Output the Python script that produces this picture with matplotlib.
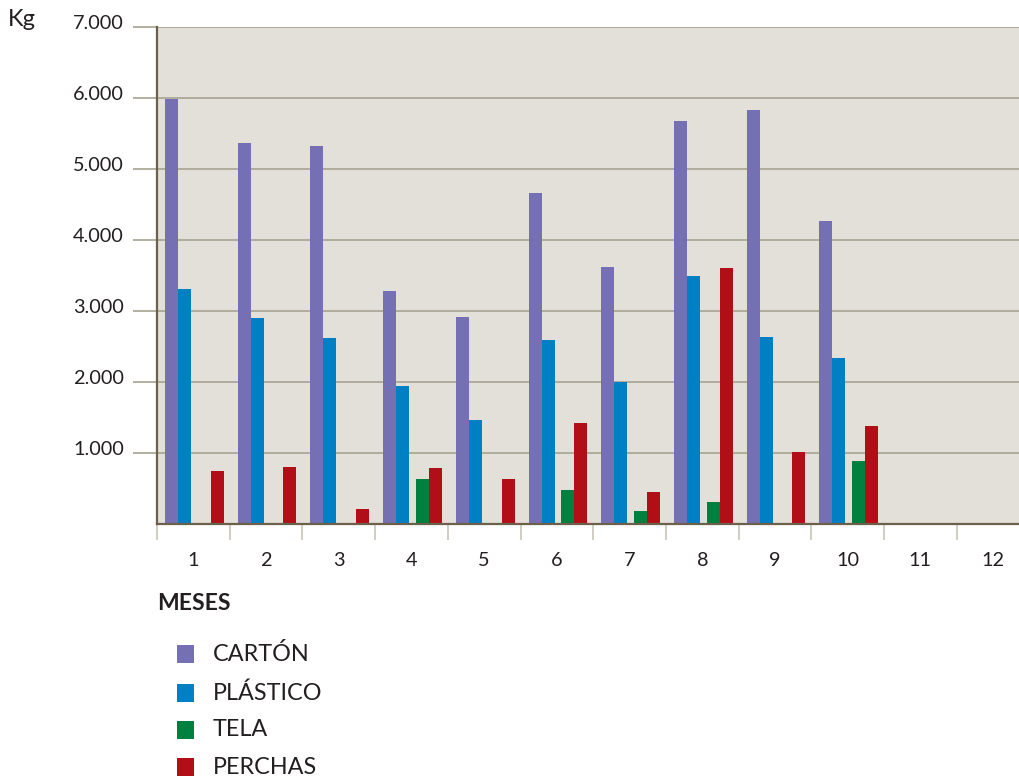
import numpy as np
import matplotlib
matplotlib.use("Agg")
from matplotlib import pyplot as plt
from matplotlib.patches import Rectangle
from matplotlib.ticker import FuncFormatter, FixedLocator
import matplotlib.transforms as mtransforms

plt.rcParams["font.family"] = ["Lato", "DejaVu Sans"]

meses = list(range(1, 13))
series = ["CARTÓN", "PLÁSTICO", "TELA", "PERCHAS"]
carton = [5980, 5367, 5325, 3277, 2910, 4661, 3621, 5678, 5833, 4266, 0, 0]
plastico = [3305, 2896, 2613, 1949, 1469, 2588, 1994, 3494, 2631, 2331, 0, 0]
tela = [0, 0, 0, 636, 0, 481, 184, 311, 0, 890, 0, 0]
perchas = [749, 805, 212, 791, 636, 1429, 453, 3607, 1017, 1384, 0, 0]
y_ticks = [1000, 2000, 3000, 4000, 5000, 6000, 7000]

colores = ["#7570b3", "#0080c4", "#00803f", "#b20e17"]
offsets = [-0.300, -0.121, 0.150, 0.329]
ancho = 0.179

W, H = 1019, 778
fig = plt.figure(figsize=(W / 100, H / 100), dpi=100)
ax = fig.add_axes([157 / W, (H - 524) / H, (W - 157) / W, (524 - 27) / H])
ax.set_facecolor("#e3e0da")

x = np.array(meses, dtype=float)
for valores, color, off in zip([carton, plastico, tela, perchas], colores, offsets):
    ax.bar(x + off, valores, width=ancho, color=color, linewidth=0, zorder=3)

ax.set_xlim(0.5, 0.5 + (W - 157) / 72.7)
ax.set_ylim(0, 7000)

# rejilla horizontal
grid_color = "#a8a290"
for v in y_ticks:
    ax.axhline(v, color=grid_color, linewidth=1.2, zorder=1)

for s in ["top", "right"]:
    ax.spines[s].set_visible(False)
for s in ["left", "bottom"]:
    ax.spines[s].set_color("#6b6049")
    ax.spines[s].set_linewidth(1.6)
    ax.spines[s].set_zorder(4)

# eje y
ax.yaxis.set_major_locator(FixedLocator(y_ticks))
ax.yaxis.set_major_formatter(FuncFormatter(lambda v, p: f"{int(v):,}".replace(",", ".")))
ax.tick_params(axis="y", direction="out", length=17, width=1.2, color=grid_color,
               pad=7, labelsize=14.3, labelcolor="#231f20")
off_up = mtransforms.ScaledTranslation(0, 5 / 100, fig.dpi_scale_trans)
for lbl in ax.get_yticklabels():
    lbl.set_transform(lbl.get_transform() + off_up)

# eje x: marcas en los limites de cada mes, etiquetas en el centro
ax.xaxis.set_major_locator(FixedLocator([m - 0.5 for m in meses]))
ax.xaxis.set_major_formatter(FuncFormatter(lambda v, p: ""))
ax.xaxis.set_minor_locator(FixedLocator(meses))
ax.xaxis.set_minor_formatter(FuncFormatter(lambda v, p: str(int(v))))
ax.tick_params(axis="x", which="major", direction="out", length=11.5, width=1.2,
               color="#c9c5b9")
ax.tick_params(axis="x", which="minor", length=0, pad=20, labelsize=14.3,
               labelcolor="#231f20")

fig.text(8 / W, 1 - 20 / H, "Kg", fontsize=17, color="#231f20", va="center", ha="left")
fig.text(157 / W, 1 - 603 / H, "MESES", fontsize=16.5, fontweight="bold",
         color="#231f20", va="center", ha="left")

# leyenda
filas = [654, 693, 730, 767]
for nombre, color, yc in zip(series, colores, filas):
    fig.patches.append(Rectangle((177 / W, 1 - (yc + 9) / H), 17 / W, 18 / H,
                                 transform=fig.transFigure, facecolor=color,
                                 edgecolor="none"))
    fig.text(213 / W, 1 - yc / H, nombre, fontsize=16.8, color="#231f20",
             va="center", ha="left")

fig.savefig("out.png", dpi=100)
